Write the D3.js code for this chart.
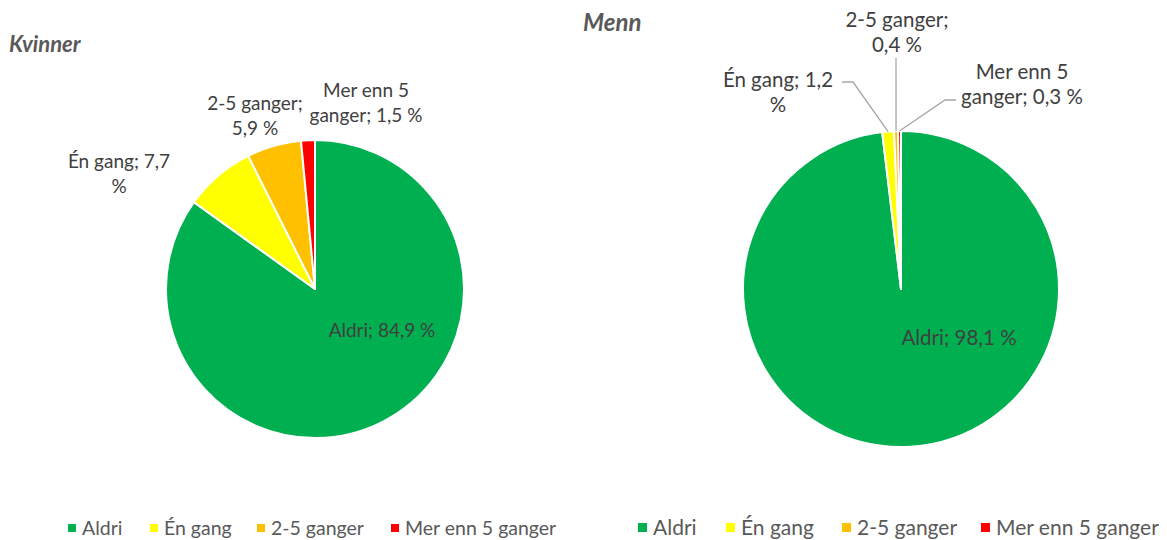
<html>
  <head>
    <style>
    body { margin: 0px; background: white; }
    text { font-family: Lato, "Open Sans", sans-serif; }
    </style>
  </head>
  <body>
    <div id="elm"></div>
    <script src="https://d3js.org/d3.v7.min.js"></script>
    <script>
    'use strict';

    // data
    var categories = ['Aldri', 'Én gang', '2-5 ganger', 'Mer enn 5 ganger'];
    var kvinner = [84.9, 7.7, 5.9, 1.5];
    var menn = [98.1, 1.2, 0.4, 0.3];
    var colors = ['#00B050', '#FFFF00', '#FFC000', '#FF0000'];

    var W = 1167, H = 540;
    var svg = d3.select('#elm').append('svg').attr('width', W).attr('height', H);

    var fmt = function(v) { return d3.format('.1f')(v).replace('.', ',') + ' %'; };

    // layout for each chart: label centre + line split, optional leader elbow
    var charts = [
      { title: 'Kvinner', tx: 9, ty: 52, titleSize: 22, cx: 315, cy: 289, r: 149, values: kvinner,
        fs: 19, legendFs: 19.5, sq: 8, legendX: [68, 150, 257, 391],
        labels: [
          { x: 382, y: 337, split: 99 },
          { x: 119, y: 168, split: 3 },
          { x: 255, y: 110, split: 2 },
          { x: 366, y: 97, split: 3 }
        ] },
      { title: 'Menn', tx: 583, ty: 31, titleSize: 24, cx: 901, cy: 289, r: 158, values: menn,
        fs: 20.5, legendFs: 21, sq: 9, legendX: [638, 726, 842, 981],
        labels: [
          { x: 959, y: 345, split: 99 },
          { x: 778, y: 87, split: 3, elbow: [[853, 82], [842, 82]] },
          { x: 897, y: 27, split: 2, elbow: [[896, 58]] },
          { x: 1022, y: 79, split: 3, elbow: [[945, 100], [956, 100]] }
        ] }
    ];

    var pie = d3.pie().sort(null).value(function(d) { return d; });

    charts.forEach(function(c) {
      var g = svg.append('g').attr('transform', 'translate(' + c.cx + ',' + c.cy + ')');
      var arc = d3.arc().innerRadius(0).outerRadius(c.r);
      var arcs = pie(c.values);

      g.selectAll('path').data(arcs).enter().append('path')
        .attr('d', arc)
        .attr('fill', function(d, i) { return colors[i]; })
        .attr('stroke', 'white')
        .attr('stroke-width', 2)
        .attr('stroke-linejoin', 'round');

      // leader lines
      arcs.forEach(function(d, i) {
        var lb = c.labels[i];
        if (!lb.elbow) return;
        var a = (d.startAngle + d.endAngle) / 2;
        var pts = [[c.cx + c.r * Math.sin(a), c.cy - c.r * Math.cos(a)]].concat(lb.elbow);
        svg.append('path')
          .attr('d', d3.line()(pts))
          .attr('fill', 'none')
          .attr('stroke', '#a6a6a6')
          .attr('stroke-width', 1.3);
      });

      // data labels
      arcs.forEach(function(d, i) {
        var lb = c.labels[i];
        var words = (categories[i] + '; ' + fmt(c.values[i])).split(' ');
        var lines = [words.slice(0, lb.split).join(' '), words.slice(lb.split).join(' ')].filter(function(s) { return s; });
        var t = svg.append('text')
          .attr('x', lb.x).attr('y', lb.y)
          .attr('text-anchor', 'middle')
          .attr('font-size', c.fs)
          .attr('fill', '#404040');
        lines.forEach(function(s, k) {
          t.append('tspan').attr('x', lb.x).attr('dy', k ? 25 : 0).text(s);
        });
      });

      svg.append('text')
        .attr('x', c.tx).attr('y', c.ty)
        .attr('font-size', c.titleSize)
        .attr('font-weight', 'bold')
        .attr('font-style', 'italic')
        .attr('fill', '#595959')
        .text(c.title);

      // legend
      var lg = svg.append('g');
      categories.forEach(function(name, i) {
        lg.append('rect')
          .attr('x', c.legendX[i]).attr('y', 532 - c.sq)
          .attr('width', c.sq).attr('height', c.sq)
          .attr('fill', colors[i]);
        lg.append('text')
          .attr('x', c.legendX[i] + c.sq + 6).attr('y', 535)
          .attr('font-size', c.legendFs)
          .attr('fill', '#595959')
          .text(name);
      });
    });
    </script>
  </body>
</html>
